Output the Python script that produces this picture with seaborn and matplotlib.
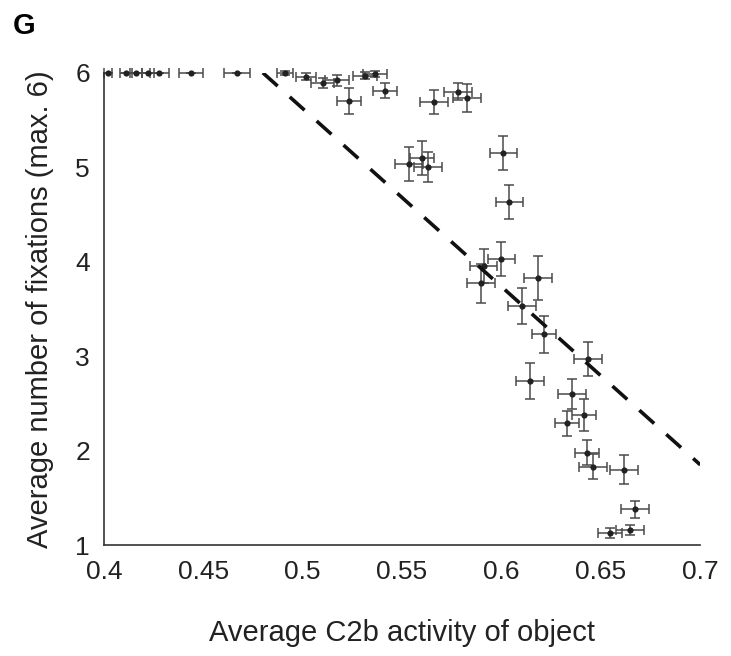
import matplotlib
matplotlib.use('Agg')
import matplotlib.pyplot as plt
import seaborn as sns
import numpy as np
import pandas as pd

# per-object averages
c2b = [0.402, 0.411, 0.416, 0.422, 0.428, 0.444, 0.467, 0.491, 0.5015, 0.510,
       0.5175, 0.5235, 0.5315, 0.5365, 0.5415, 0.5535, 0.560, 0.563, 0.566, 0.578,
       0.5825, 0.5895, 0.591, 0.600, 0.601, 0.604, 0.6105, 0.6145, 0.6185, 0.6215,
       0.633, 0.6355, 0.6415, 0.643, 0.6435, 0.646, 0.6545, 0.6615, 0.6645, 0.667]
fixations = [6.0, 6.0, 6.0, 6.0, 6.0, 6.0, 6.0, 6.0, 5.96, 5.89,
             5.92, 5.70, 5.97, 5.99, 5.81, 5.03, 5.10, 5.00, 5.69, 5.80,
             5.73, 3.77, 3.96, 4.03, 5.15, 4.63, 3.53, 2.74, 3.83, 3.23,
             2.29, 2.60, 2.38, 1.98, 2.97, 1.83, 1.13, 1.80, 1.16, 1.38]
c2b_err = [0.002, 0.003, 0.003, 0.003, 0.005, 0.006, 0.0065, 0.004, 0.005, 0.006,
           0.006, 0.006, 0.006, 0.006, 0.006, 0.007, 0.006, 0.007, 0.007, 0.007,
           0.007, 0.007, 0.007, 0.007, 0.007, 0.007, 0.007, 0.007, 0.007, 0.006,
           0.006, 0.007, 0.006, 0.006, 0.007, 0.007, 0.006, 0.007, 0.007, 0.007]
fix_err = [0, 0, 0, 0, 0, 0, 0, 0.02, 0.04, 0.05,
           0.06, 0.14, 0.04, 0.03, 0.08, 0.18, 0.18, 0.16, 0.13, 0.09,
           0.15, 0.21, 0.18, 0.18, 0.18, 0.18, 0.19, 0.19, 0.23, 0.20,
           0.13, 0.16, 0.17, 0.13, 0.18, 0.13, 0.05, 0.15, 0.05, 0.09]

# dashed fit line endpoints
fit_x = [0.48, 0.70]
fit_y = [6.0, 1.85]

df = pd.DataFrame({'c2b': c2b, 'fix': fixations})

sns.set_style('white')
plt.rcParams['font.family'] = ['Liberation Sans', 'DejaVu Sans']

fig = plt.figure(figsize=(7.31, 6.56), dpi=100)
ax = fig.add_axes([0.142, 0.169, 0.816, 0.72])

ax.errorbar(c2b, fixations, xerr=c2b_err, yerr=fix_err, fmt='none',
            ecolor='#4a4a4a', elinewidth=1.1, capsize=3.5, capthick=1.1,
            clip_on=False, zorder=2)
sns.scatterplot(data=df, x='c2b', y='fix', color='#222222', s=20,
                edgecolor='#222222', linewidth=0, ax=ax, zorder=3, clip_on=False)
ax.plot(fit_x, fit_y, color='#111111', lw=2.6, dashes=(5.5, 4.5), zorder=4)

ax.set_xlim(0.4, 0.7)
ax.set_ylim(1, 6)
ax.set_xticks([0.4, 0.45, 0.5, 0.55, 0.6, 0.65, 0.7])
ax.set_xticklabels(['0.4', '0.45', '0.5', '0.55', '0.6', '0.65', '0.7'])
ax.set_yticks([1, 2, 3, 4, 5, 6])
ax.tick_params(axis='both', labelsize=19, colors='#222222', length=5, width=1)
ax.tick_params(axis='x', direction='inout', length=8, pad=7)
ax.tick_params(axis='y', direction='out', pad=5)
for side in ['top', 'right']:
    ax.spines[side].set_visible(False)
for side in ['left', 'bottom']:
    ax.spines[side].set_color('#333333')
    ax.spines[side].set_linewidth(1.2)

ax.set_xlabel('Average C2b activity of object', fontsize=21, labelpad=25, color='#222222')
ax.set_ylabel('Average number of fixations (max. 6)', fontsize=21, labelpad=15, color='#222222')

fig.text(0.018, 0.948, 'G', fontsize=21, fontweight='bold', color='black')

fig.savefig('out.png', dpi=100, facecolor='white')
